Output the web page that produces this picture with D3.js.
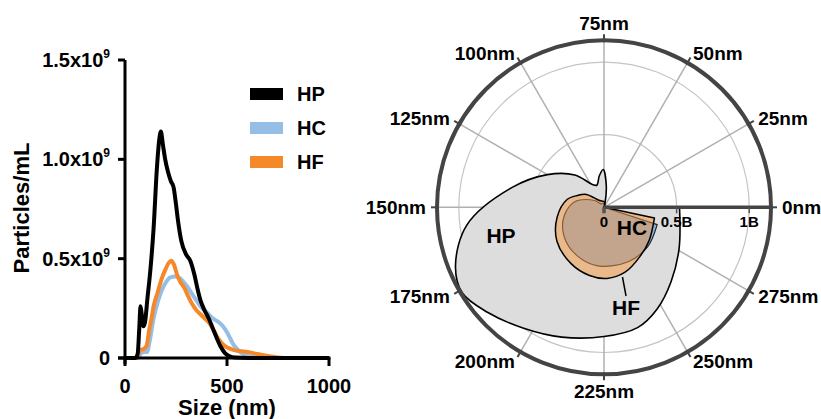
<!DOCTYPE html>
<html>
<head>
<meta charset="UTF-8"/>
<script src="https://d3js.org/d3.v7.min.js"></script>
<style>
body{margin:0;background:#fff;}
text{font-family:"Liberation Sans",Arial,Helvetica,sans-serif;font-weight:bold;fill:#000;}
</style>
</head>
<body>
<script>
// size distributions (particles/mL, in 1e9)
const hpSize = [0,50,62,70,76,82,90,98,110,125,140,156,168,176,185,197,210,225,238,248,260,276,300,320,340,355,370,390,410,430,450,470,490,510,540,600,1000];
const hpVal  = [0,0,0.02,0.15,0.26,0.22,0.16,0.18,0.3,0.45,0.65,0.95,1.1,1.14,1.08,1.0,0.94,0.89,0.86,0.79,0.69,0.59,0.52,0.49,0.42,0.35,0.29,0.24,0.2,0.15,0.1,0.055,0.025,0.01,0.002,0,0];

const hcSize = [0,60,70,80,95,108,120,140,160,180,200,220,245,265,285,305,330,350,370,400,430,460,480,500,515,530,550,570,600,650,700,1000];
const hcVal  = [0,0,0.01,0.025,0.03,0.03,0.08,0.2,0.28,0.34,0.38,0.405,0.41,0.405,0.385,0.36,0.32,0.29,0.26,0.23,0.2,0.18,0.16,0.13,0.1,0.07,0.045,0.025,0.01,0.003,0,0];

const hfSize = [0,55,65,75,90,105,120,130,140,160,180,200,215,227,240,255,270,290,310,330,350,370,390,410,430,450,470,490,520,560,600,650,700,750,800,1000];
const hfVal  = [0,0,0.02,0.04,0.045,0.06,0.15,0.2,0.26,0.33,0.4,0.45,0.48,0.49,0.47,0.42,0.385,0.355,0.31,0.27,0.24,0.22,0.2,0.18,0.15,0.11,0.08,0.06,0.045,0.035,0.03,0.02,0.01,0.003,0,0];

const names = ["HP","HC","HF"];
const yTicks = [0,0.5,1.0,1.5];
const xTicks = [0,500,1000];
const angleTicks = [0,25,50,75,100,125,150,175,200,225,250,275];
const rTicks = [0,0.5,1];
const rTickLabels = ["0","0.5B","1B"];

const series = [
  {name:"HP", pts: hpSize.map((s,i)=>[s,hpVal[i]]), color:"#000000"},
  {name:"HC", pts: hcSize.map((s,i)=>[s,hcVal[i]]), color:"#95bde6"},
  {name:"HF", pts: hfSize.map((s,i)=>[s,hfVal[i]]), color:"#f5892a"}
];
const byName = {};
series.forEach(s => byName[s.name] = s);

const svg = d3.select("body").append("svg")
  .attr("width",821).attr("height",419);

// ---------- left: line chart ----------
const x = d3.scaleLinear().domain([0,1000]).range([125,329]);
const y = d3.scaleLinear().domain([0,1.5]).range([358,60]);

const line = d3.line()
  .x(d => x(d[0])).y(d => y(d[1]))
  .curve(d3.curveMonotoneX);

svg.append("g").selectAll("path")
  .data(["HC","HF","HP"].map(n => byName[n]))
  .join("path")
  .attr("d", d => line(d.pts))
  .attr("fill","none")
  .attr("stroke", d => d.color)
  .attr("stroke-width",4)
  .attr("stroke-linejoin","round");

const ax = svg.append("g");
ax.append("line").attr("x1",125).attr("x2",125).attr("y1",y(1.5)).attr("y2",y(0)+6)
  .attr("stroke","#000").attr("stroke-width",3);
ax.append("line").attr("x1",118).attr("x2",x(1000)+1.5).attr("y1",y(0)).attr("y2",y(0))
  .attr("stroke","#000").attr("stroke-width",3);
ax.selectAll(".yt").data(yTicks).join("line")
  .attr("x1",118).attr("x2",125).attr("y1",d=>y(d)).attr("y2",d=>y(d))
  .attr("stroke","#000").attr("stroke-width",3);
ax.selectAll(".xt").data(xTicks).join("line")
  .attr("x1",d=>x(d)).attr("x2",d=>x(d)).attr("y1",y(0)).attr("y2",y(0)+8)
  .attr("stroke","#000").attr("stroke-width",3);

const yl = ax.selectAll(".yl").data(yTicks).join("text")
  .attr("x",110).attr("y",d=>y(d)+7)
  .attr("text-anchor","end").attr("font-size",20);
yl.each(function(d){
  const t = d3.select(this);
  if (d === 0) { t.text("0"); return; }
  t.append("tspan").text(d.toFixed(1)+"x10");
  t.append("tspan").attr("font-size",12).attr("dy",-9).text("9");
});

ax.selectAll(".xl").data(xTicks).join("text")
  .attr("x",d=>x(d)).attr("y",393)
  .attr("text-anchor","middle").attr("font-size",20)
  .text(d=>d);

svg.append("text").attr("x",227).attr("y",415).attr("text-anchor","middle")
  .attr("font-size",22).text("Size (nm)");
svg.append("text").attr("transform","translate(29,208) rotate(-90)")
  .attr("text-anchor","middle").attr("font-size",22).text("Particles/mL");

// legend
const leg = svg.append("g").selectAll("g").data(names.map(n=>byName[n])).join("g")
  .attr("transform",(d,i)=>"translate(250,"+(94+i*34)+")");
leg.append("rect").attr("x",0).attr("y",-6).attr("width",33).attr("height",12)
  .attr("fill",d=>d.color);
leg.append("text").attr("x",47).attr("y",7).attr("font-size",20).text(d=>d.name);

// ---------- right: polar chart ----------
const cx = 604, cy = 207.3, R = 167;
const pg = svg.append("g").attr("transform","translate("+cx+","+cy+")");
const r = d3.scaleLinear().domain([0,1.15]).range([0,R]);
// size -> math angle (ccw from 3 o'clock), 300nm per turn
const theta = d3.scaleLinear().domain([0,300]).range([0,2*Math.PI]);

pg.selectAll(".grid").data([0.5,1]).join("circle")
  .attr("r",d=>r(d)).attr("fill","none").attr("stroke","#c4c4c4").attr("stroke-width",1.2);
pg.selectAll(".spoke").data(angleTicks.filter(d=>d>0)).join("line")
  .attr("x1",0).attr("y1",0)
  .attr("x2",d=>R*Math.cos(theta(d))).attr("y2",d=>-R*Math.sin(theta(d)))
  .attr("stroke","#b0b0b0").attr("stroke-width",1.5);

const radial = d3.lineRadial()
  .angle(d => Math.PI/2 - theta(d[0]))
  .radius(d => r(d[1]))
  .curve(d3.curveCatmullRom);

const polarOrder = [
  {s:byName.HP, fill:"#dddddd", stroke:"#000", w:1.6},
  {s:byName.HC, fill:"#8fb4dc", stroke:"#1a2430", w:1.2},
  {s:byName.HF, fill:"rgba(245,150,60,0.5)", stroke:"#000", w:1.5}
];
pg.selectAll(".shape").data(polarOrder).join("path")
  .attr("d", d => radial(d.s.pts.filter(p => p[0] <= 300)) + "Z")
  .attr("fill", d => d.fill)
  .attr("stroke", d => d.stroke)
  .attr("stroke-width", d => d.w)
  .attr("stroke-linejoin","round");

// radial axis along 0nm
pg.append("line").attr("x1",0).attr("y1",0).attr("x2",R).attr("y2",0)
  .attr("stroke","#444").attr("stroke-width",3.5);
pg.selectAll(".rt").data(rTicks).join("line")
  .attr("x1",d=>r(d)).attr("x2",d=>r(d)).attr("y1",0).attr("y2",6)
  .attr("stroke","#555").attr("stroke-width",d=>d===0?3.5:1.5);
pg.selectAll(".rl").data(rTicks).join("text")
  .attr("x",d=>r(d)).attr("y",20)
  .attr("text-anchor","middle").attr("font-size",15)
  .text((d,i)=>rTickLabels[i]);

// outer circle and angular ticks
pg.append("circle").attr("r",R).attr("fill","none").attr("stroke","#444").attr("stroke-width",4);
pg.selectAll(".at").data(angleTicks).join("line")
  .attr("x1",d=>(R-2)*Math.cos(theta(d))).attr("y1",d=>-(R-2)*Math.sin(theta(d)))
  .attr("x2",d=>(R+6)*Math.cos(theta(d))).attr("y2",d=>-(R+6)*Math.sin(theta(d)))
  .attr("stroke","#444").attr("stroke-width",2);
pg.selectAll(".al").data(angleTicks).join("text")
  .attr("x",d=>{const c=Math.cos(theta(d)); return (Math.abs(c)<0.1?184:178)*c;})
  .attr("y",d=>{const c=Math.cos(theta(d)); return -(Math.abs(c)<0.1?184:178)*Math.sin(theta(d))+7;})
  .attr("text-anchor",d=>{const c=Math.cos(theta(d)); return c>0.1?"start":(c<-0.1?"end":"middle");})
  .attr("font-size",19)
  .text(d=>d+"nm");

// shape labels
pg.append("text").attr("x",501-cx).attr("y",243-cy).attr("text-anchor","middle").attr("font-size",21).text("HP");
pg.append("text").attr("x",632-cx).attr("y",235-cy).attr("text-anchor","middle").attr("font-size",21).text("HC");
pg.append("text").attr("x",626-cx).attr("y",315-cy).attr("text-anchor","middle").attr("font-size",21).text("HF");
pg.append("line").attr("x1",622.5-cx).attr("y1",277-cy).attr("x2",626-cx).attr("y2",296-cy)
  .attr("stroke","#000").attr("stroke-width",1.5);
</script>
</body>
</html>
